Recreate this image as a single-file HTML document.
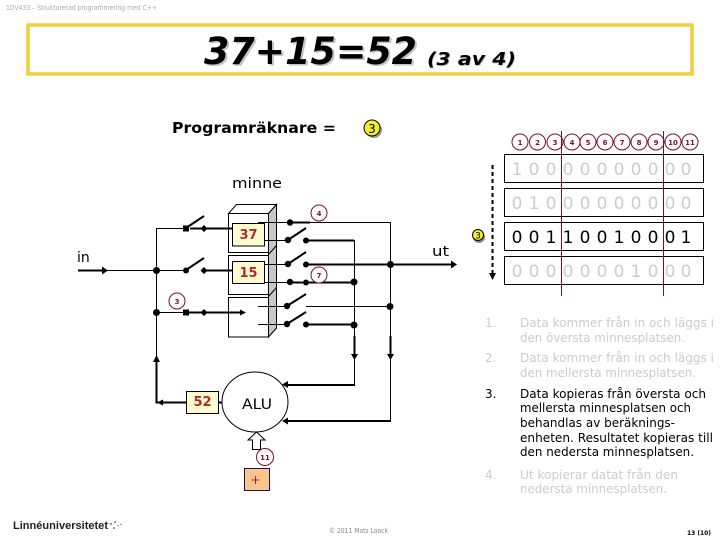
<!DOCTYPE html>
<html><head><meta charset="utf-8"><style>
html,body{margin:0;padding:0;background:#fff}
svg{display:block}
text{font-family:"DejaVu Sans","Liberation Sans",sans-serif}
.t{stroke:#000;stroke-width:1;fill:none}
.k{stroke:#000;stroke-width:2;fill:none}
.c{fill:#fff;stroke:#7a1028;stroke-width:1}
.cn{font-size:7px;fill:#7a1028;text-anchor:middle;font-weight:bold}
.dg{font-size:17px;text-anchor:middle;fill:#ccc}
.db{font-size:17px;text-anchor:middle;fill:#000}
.l{font-size:12px;fill:#ccc}
.b{font-size:12px;fill:#000}
</style></head><body>
<svg width="720" height="540" viewBox="0 0 720 540" xmlns="http://www.w3.org/2000/svg">
<rect width="720" height="540" fill="#fff"/>
<text x="6" y="10" font-size="7" fill="#aaa" textLength="151" lengthAdjust="spacingAndGlyphs">1DV433 – Strukturerad programmering med C++</text>
<rect x="28" y="25" width="664" height="49" fill="#fff" stroke="#efcf3c" stroke-width="3.5"/>
<g font-weight="bold" font-style="italic">
<text x="206" y="65.500" font-size="37" fill="#c4c4c4" textLength="213" lengthAdjust="spacingAndGlyphs">37+15=52</text>
<text x="204" y="64" font-size="37" fill="#000" textLength="213" lengthAdjust="spacingAndGlyphs">37+15=52</text>
<text x="427.800" y="65.800" font-size="18" fill="#c4c4c4" textLength="89" lengthAdjust="spacingAndGlyphs">(3 av 4)</text>
<text x="427" y="65" font-size="18" fill="#000" textLength="89" lengthAdjust="spacingAndGlyphs">(3 av 4)</text>
</g>
<text x="172" y="133" font-size="15" font-weight="bold" textLength="164" lengthAdjust="spacingAndGlyphs">Programräknare =</text>
<circle cx="374" cy="130" r="8" fill="#999"/>
<circle cx="372" cy="128" r="8" fill="#f5f02a" stroke="#000"/>
<text x="372" y="133" font-size="12" text-anchor="middle">3</text>
<text x="232" y="188" font-size="14" textLength="50" lengthAdjust="spacingAndGlyphs">minne</text>

<!-- register rows -->
<g fill="#fff" stroke="#000"><rect x="504.500" y="154.500" width="199" height="28"/><rect x="504.500" y="188.500" width="199" height="28"/><rect x="504.500" y="222.500" width="199" height="28"/><rect x="504.500" y="256.500" width="199" height="28"/></g>
<g><text class="dg" x="517" y="175">1</text><text class="dg" x="534" y="175">0</text><text class="dg" x="551" y="175">0</text><text class="dg" x="568" y="175">0</text><text class="dg" x="585" y="175">0</text><text class="dg" x="602" y="175">0</text><text class="dg" x="619" y="175">0</text><text class="dg" x="636" y="175">0</text><text class="dg" x="653" y="175">0</text><text class="dg" x="670" y="175">0</text><text class="dg" x="686" y="175">0</text></g>
<g><text class="dg" x="517" y="209">0</text><text class="dg" x="534" y="209">1</text><text class="dg" x="551" y="209">0</text><text class="dg" x="568" y="209">0</text><text class="dg" x="585" y="209">0</text><text class="dg" x="602" y="209">0</text><text class="dg" x="619" y="209">0</text><text class="dg" x="636" y="209">0</text><text class="dg" x="653" y="209">0</text><text class="dg" x="670" y="209">0</text><text class="dg" x="686" y="209">0</text></g>
<g><text class="db" x="517" y="243">0</text><text class="db" x="534" y="243">0</text><text class="db" x="551" y="243">1</text><text class="db" x="568" y="243">1</text><text class="db" x="585" y="243">0</text><text class="db" x="602" y="243">0</text><text class="db" x="619" y="243">1</text><text class="db" x="636" y="243">0</text><text class="db" x="653" y="243">0</text><text class="db" x="670" y="243">0</text><text class="db" x="686" y="243">1</text></g>
<g><text class="dg" x="517" y="277">0</text><text class="dg" x="534" y="277">0</text><text class="dg" x="551" y="277">0</text><text class="dg" x="568" y="277">0</text><text class="dg" x="585" y="277">0</text><text class="dg" x="602" y="277">0</text><text class="dg" x="619" y="277">0</text><text class="dg" x="636" y="277">1</text><text class="dg" x="653" y="277">0</text><text class="dg" x="670" y="277">0</text><text class="dg" x="686" y="277">0</text></g>

<!-- clock circles -->
<g><circle class="c" cx="520" cy="142" r="8"/><circle class="c" cx="537.500" cy="142" r="8"/><circle class="c" cx="555" cy="142" r="8"/><circle class="c" cx="572" cy="142" r="8"/><circle class="c" cx="588" cy="142" r="8"/><circle class="c" cx="605" cy="142" r="8"/><circle class="c" cx="622" cy="142" r="8"/><circle class="c" cx="639" cy="142" r="8"/><circle class="c" cx="656" cy="142" r="8"/><circle class="c" cx="673" cy="142" r="8"/><circle class="c" cx="690" cy="142" r="8"/></g>
<g><text class="cn" x="520" y="145">1</text><text class="cn" x="537.500" y="145">2</text><text class="cn" x="555" y="145">3</text><text class="cn" x="572" y="145">4</text><text class="cn" x="588" y="145">5</text><text class="cn" x="605" y="145">6</text><text class="cn" x="622" y="145">7</text><text class="cn" x="639" y="145">8</text><text class="cn" x="656" y="145">9</text><text class="cn" x="673" y="145">10</text><text class="cn" x="690" y="145">11</text></g>
<path d="M561.500 131V296M663.500 131V296" stroke="#7a1028" fill="none"/>
<path d="M492.500 165V273" stroke="#000" stroke-width="2" stroke-dasharray="4 3" fill="none"/>
<path d="M489 273h7l-3.500 7z" fill="#000"/>
<circle cx="479" cy="237" r="6" fill="#888"/>
<circle cx="478" cy="235" r="5.500" fill="#f5f02a" stroke="#000"/>
<text x="478" y="238.500" font-size="9" text-anchor="middle">3</text>

<!-- memory block -->
<g stroke="#000" fill="#fff">
<path d="M228.500 213.500l8-9h40l-8 9z"/>
<path d="M268.500 213.500l8-9V328l-8 9z" fill="#c8c8c8" stroke-linejoin="miter"/>
<rect x="228.500" y="213.500" width="40" height="39"/>
<rect x="228.500" y="255.500" width="40" height="39"/>
<rect x="228.500" y="297.500" width="40" height="39.500"/>
<path d="M268.500 254.500l8-9M268.500 296.500l8-9" fill="none"/>
</g>
<g stroke="#000" fill="#fffbd0">
<rect x="232.500" y="223.500" width="32" height="22.500"/>
<rect x="232.500" y="261.500" width="32" height="22"/>
<rect x="186.500" y="391.500" width="32" height="22"/>
</g>
<g font-size="13" font-weight="bold" fill="#b02a2a" text-anchor="middle">
<text x="248.500" y="239">37</text><text x="248.500" y="277">15</text><text x="202.500" y="406">52</text>
</g>

<!-- left wires -->
<path class="k" d="M78 270.500H103M190 228.500H232M204 270.500H232M186 312.500H240M156.500 360V402.500H186"/>
<path class="t" d="M103 270.500H186M186 228.500H156.500V356M156.500 312.500H186"/>
<path d="M186 228l18-12M186 270l18-12" class="k"/>
<path d="M102 266.500l6 4-6 4zM240 309.500l6 3-6 3zM156.500 355l-3.500 7h7z" fill="#000"/>
<rect x="183" y="225.500" width="6" height="6"/>
<circle cx="186" cy="270.500" r="3"/><rect x="183" y="309.500" width="6" height="6"/>
<circle cx="156.500" cy="270.500" r="3.500"/><circle cx="156.500" cy="312.500" r="3.500"/>
<path d="M204 225l3.500 3.500-3.500 3.500-3.500-3.500zM204 267l3.500 3.500-3.500 3.500-3.500-3.500zM204 309l3.500 3.500-3.500 3.500-3.500-3.500z"/>
<path d="M157 402.500l6-3v6z"/>
<text x="77" y="262" font-size="14">in</text>

<!-- ALU -->
<path class="k" d="M218 402.500H223"/>
<ellipse cx="255" cy="402" rx="33" ry="30" fill="#fff" stroke="#000"/>
<text x="257" y="409" font-size="14" text-anchor="middle" textLength="30" lengthAdjust="spacingAndGlyphs">ALU</text>
<path d="M256.500 432l8.500 8h-4.500v9.500h-8V440h-4.500z" fill="#fff" stroke="#000"/>
<rect x="244.500" y="468.500" width="25" height="22" fill="#fdc48c" stroke="#14145a"/>
<text x="255.500" y="484" font-size="12" fill="#a51c30" text-anchor="middle">+</text>

<!-- right switches -->
<path class="t" d="M258 222.500H290M265 240.500H288M265 264.500H288M265 282.500H290M258 306.500H287M258 324.500H287M306 306.500H390M310 222.500H390.500V336M354.500 240V336M354.500 357V385M390.500 357V421"/>
<path class="k" d="M290 222.500H310M306 240.500H354M306 264.500H453M290 282.500H354M306 324.500H354M354.500 336V357M390.500 336V357M288 240l18-12M288 264l18-12M287 306l19-12M287 324l19-12M355 385H288M391 421H288"/>
<g>
<circle cx="290" cy="222.500" r="3.200"/><circle cx="288" cy="240" r="3.200"/><circle cx="288" cy="264" r="3.200"/><circle cx="290" cy="282" r="3.200"/><circle cx="287" cy="306" r="3.200"/><circle cx="287" cy="324" r="3.200"/>
<circle cx="306" cy="240.500" r="3"/><circle cx="306" cy="264.500" r="3"/><circle cx="306" cy="282.500" r="3"/><circle cx="306" cy="324.500" r="3"/>
<circle cx="390.500" cy="264.500" r="3.500"/><circle cx="390" cy="306.500" r="3.500"/><circle cx="354" cy="282" r="3.500"/><circle cx="354" cy="325" r="3.500"/>
</g>
<path d="M451 260.500l6 4-6 4zM351 354h7l-3.500 6zM387 354h7l-3.500 6zM288 381v7l-6-3.500zM288 417.500v7l-6-3.500z"/>
<text x="432" y="256" font-size="14" textLength="17" lengthAdjust="spacingAndGlyphs">ut</text>

<!-- number badges -->
<g><circle class="c" cx="319" cy="213" r="8"/><circle class="c" cx="319" cy="275" r="8"/><circle class="c" cx="177" cy="301" r="8"/><circle class="c" cx="265" cy="457" r="8.500"/></g>
<g><text class="cn" x="319" y="216">4</text><text class="cn" x="319" y="278">7</text><text class="cn" x="177" y="304">3</text><text class="cn" x="265" y="460">11</text></g>

<!-- steps -->
<g>
<text class="l" x="485" y="327">1.</text>
<text class="l" x="520" y="327" textLength="194" lengthAdjust="spacingAndGlyphs">Data kommer från in och läggs i</text>
<text class="l" x="520" y="342" textLength="165" lengthAdjust="spacingAndGlyphs">den översta minnesplatsen.</text>
<text class="l" x="485" y="362">2.</text>
<text class="l" x="520" y="362" textLength="194" lengthAdjust="spacingAndGlyphs">Data kommer från in och läggs i</text>
<text class="l" x="520" y="377" textLength="176" lengthAdjust="spacingAndGlyphs">den mellersta minnesplatsen.</text>
<text class="b" x="485" y="398">3.</text>
<text class="b" x="520" y="398" textLength="186" lengthAdjust="spacingAndGlyphs">Data kopieras från översta och</text>
<text class="b" x="520" y="412" textLength="171" lengthAdjust="spacingAndGlyphs">mellersta minnesplatsen och</text>
<text class="b" x="520" y="427" textLength="155" lengthAdjust="spacingAndGlyphs">behandlas av beräknings-</text>
<text class="b" x="520" y="442" textLength="193" lengthAdjust="spacingAndGlyphs">enheten. Resultatet kopieras till</text>
<text class="b" x="520" y="456" textLength="174" lengthAdjust="spacingAndGlyphs">den nedersta minnesplatsen.</text>
<text class="l" x="485" y="479">4.</text>
<text class="l" x="520" y="479" textLength="158" lengthAdjust="spacingAndGlyphs">Ut kopierar datat från den</text>
<text class="l" x="520" y="493" textLength="147" lengthAdjust="spacingAndGlyphs">nedersta minnesplatsen.</text>
</g>

<!-- footer -->
<text x="13" y="529" font-size="11" font-weight="bold" fill="#222" style="font-family:'Liberation Sans',sans-serif" textLength="95" lengthAdjust="spacingAndGlyphs">Linnéuniversitetet</text>
<path d="M110 523h2v2h-2zM114 521h2v2h-2zM117 525h2v1h-2zM113 527h2v2h-2zM120 524h2v1h-2z" fill="#999"/>
<text x="329" y="533" font-size="7" fill="#888" textLength="59" lengthAdjust="spacingAndGlyphs">© 2011 Mats Loock</text>
<text x="687" y="535" font-size="6.500" font-weight="bold" textLength="24" lengthAdjust="spacingAndGlyphs">13 (10)</text>
</svg>
</body></html>
